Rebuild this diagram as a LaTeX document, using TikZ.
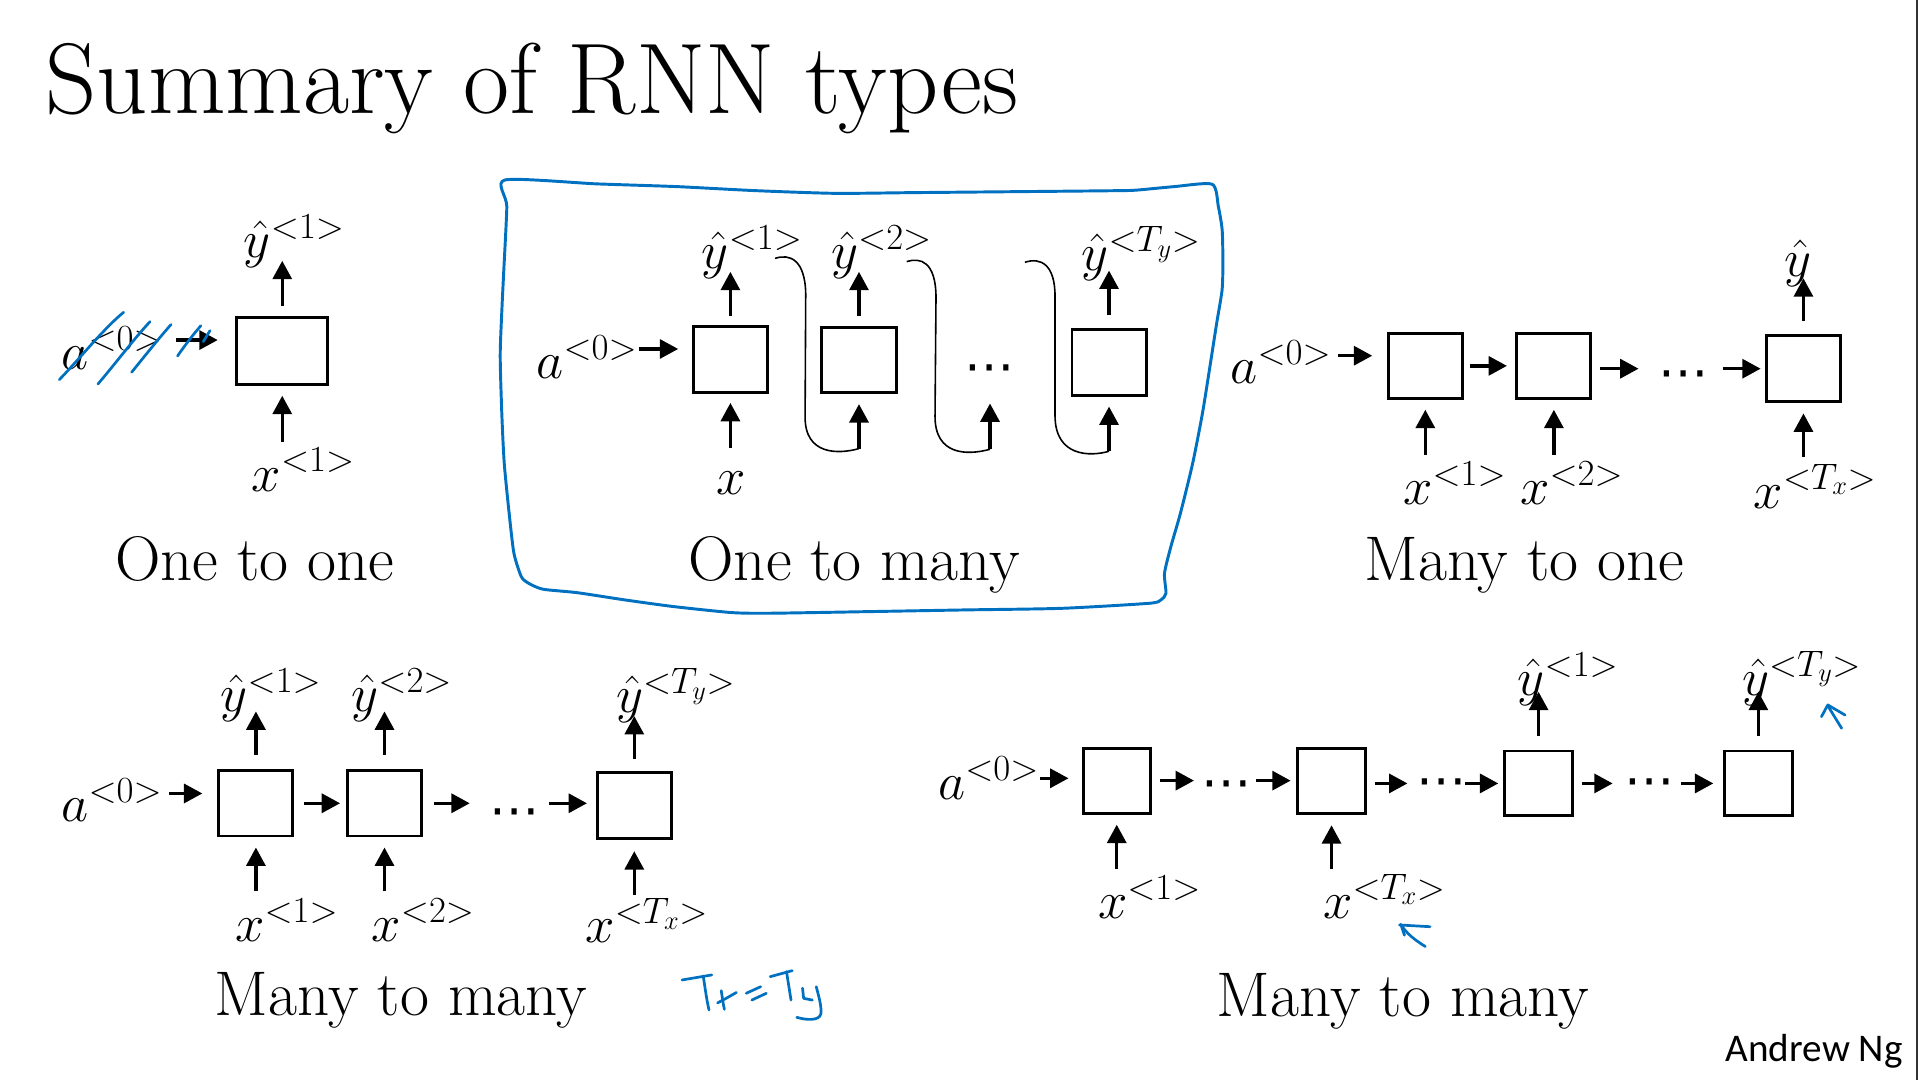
\RequirePackage{fix-cm}
\documentclass[tikz,border=0pt]{standalone}
\usepackage{fontspec}
\usetikzlibrary{arrows.meta}
\newfontfamily\carlito{Carlito}
\newfontfamily\dejavu{DejaVu Sans}
\definecolor{inkblue}{RGB}{0,112,192}
\newcommand\labfont{\fontsize{43}{46}\selectfont}
\newcommand\capfont{\fontsize{51.5}{54}\selectfont}
\newcommand\ttlfont{\fontsize{82}{86}\selectfont}
\newcommand\dotfont{\dejavu\fontsize{41}{41}\selectfont}
\tikzset{
  cell/.style={draw, line width=2.4pt, inner sep=0pt, minimum width=60.5pt, minimum height=53.5pt},
  arr/.style={line width=2.7pt, -{Triangle[length=15pt,width=15.5pt]}},
  loopline/.style={line width=1.3pt},
  lab/.style={inner sep=0pt, font=\labfont, anchor=base west},
  caption/.style={inner sep=0pt, font=\capfont, anchor=base},
  dotsn/.style={inner sep=0pt, font=\dotfont, anchor=center, text height=24.6pt, text depth=0pt},
  ink/.style={draw=inkblue, line width=2.2pt, line cap=round, line join=round},
}
\begin{document}
\begin{tikzpicture}[x=1pt,y=-1pt]
\useasboundingbox (0,0) rectangle (1568,882);
\fill[white] (0,0) rectangle (1568,882);
\draw[line width=1.5pt, black!80] (1565.5,0) -- (1565.5,882);

\node[inner sep=0pt, anchor=base west, font=\ttlfont] (title) at (37,93) {Summary of RNN types};

% ---------- One to one ----------
\node[cell, minimum width=74.6pt, minimum height=54.6pt] (b11) at (230.5,286.5) {};
\node[lab, text height=48.6pt, text depth=0pt] (a01) at (50,302) {$a^{<0>}$};
\node[lab] (y11) at (199,210) {$\hat{y}^{<1>}$};
\node[lab] (x11) at (205.5,401) {$x^{<1>}$};
\draw[arr, shorten <=11pt, shorten >=14.2pt] (a01.east) -- (a01.east -| b11.west);
\draw[arr, shorten <=8.2pt, shorten >=3pt] (b11.north) -- (b11.north |- y11.base);
\draw[arr, shorten <=40pt, shorten >=8.2pt] (b11.south |- x11.base) -- (b11.south);
\node[caption] (c1) at (208,474) {One to one};
\draw[ink] (48.5,310) .. controls (65,293) and (85,268) .. (101,255);
\draw[ink] (80,313.6) .. controls (95,296) and (110,276) .. (122.5,262.7);
\draw[ink] (107.5,304) .. controls (118,291) and (130,276) .. (139.7,265);
\draw[ink] (145,290.7) .. controls (151,282) and (158,273) .. (164,266);
\draw[ink] (166,279) -- (171.5,270);

% ---------- One to many ----------
\node[cell] (b21) at (596.5,293.5) {};
\node[cell] (b22) at (701.5,294) {};
\node[cell] (b23) at (905.7,296.2) {};
\node[lab, text height=48pt, text depth=0pt] (a02) at (438,309) {$a^{<0>}$};
\node[lab] (y21) at (573,219) {$\hat{y}^{<1>}$};
\node[lab] (y22) at (678.6,219) {$\hat{y}^{<2>}$};
\node[lab] (y23) at (883,221) {$\hat{y}^{<T_y>}$};
\node[lab] (x21) at (585,404) {$x$};
\node[dotsn] (d2) at (808.5,300.7) {⋯};
\draw[arr, shorten <=1pt, shorten >=11.2pt] (a02.east) -- (a02.east -| b21.west);
\draw[arr, shorten <=7.6pt, shorten >=3pt] (b21.north) -- (b21.north |- y21.base);
\draw[arr, shorten <=8.1pt, shorten >=3pt] (b22.north) -- (b22.north |- y22.base);
\draw[arr, shorten <=10.7pt, shorten >=0pt] (b23.north) -- (b23.north |- y23.base);
\draw[arr, shorten <=38pt, shorten >=7.6pt] (b21.south |- x21.base) -- (b21.south);
\coordinate (s1) at (633,211);
\coordinate (s2) at (740.5,213.6);
\coordinate (s3) at (837,214.2);
\coordinate (j1) at ([yshift=-44.4pt]b22.south);
\coordinate (j2) at ([yshift=-66.2pt]d2.center);
\coordinate (j3) at ([yshift=-44.4pt]b23.south);
\draw[loopline] (s1) .. controls (645,207) and (657.5,212) .. (658,240) -- (657.5,340) .. controls (657,372) and (685,371) .. (j1);
\draw[loopline] (s2) .. controls (752,210) and (764,214) .. (764.4,242) -- (763.6,340) .. controls (763.5,372) and (790,372) .. (j2);
\draw[loopline] (s3) .. controls (850,210) and (861.6,216) .. (861.6,242) -- (861.6,340) .. controls (862,373) and (890,373) .. (j3);
\draw[arr, shorten >=8.1pt] (j1) -- (b22.south);
\draw[arr, shorten >=28.8pt] (j2) -- (d2.center);
\draw[arr, shorten >=7.9pt] (j3) -- (b23.south);
\node[caption] (c2) at (697.5,474) {One to many};
\draw[ink, line width=2.4pt] plot[smooth cycle, tension=0.4] coordinates {
 (412.3,147) (488,150.2) (552.7,152.4) (617,155.7) (682,157.9) (746.5,157.3) (833,156.5)
 (913.9,155.7) (929,155.2) (959,152.4) (990,150.5) (995,168.8) (998.1,187.8) (998.7,215)
 (998,237) (993.6,264) (988,300) (982,337.5) (974,378.4) (964,419.2) (956.2,446.4)
 (951,468.2) (952.2,484.5) (948,490) (938.3,492.7) (867,496.8) (788,498.1) (708.7,499.5)
 (629.5,500.8) (598,500.3) (550.4,495.4) (510.8,490) (471.2,484) (443.5,481.2)
 (431.6,476.3) (425.7,470.9) (419.7,451.8) (415.8,419.2) (411.8,378.4) (409.8,337.5)
 (408.5,290) (410,250) (411.3,223.2) (413.9,168.7)};

% ---------- Many to one ----------
\node[cell] (b31) at (1164,298.8) {};
\node[cell] (b32) at (1269,298.8) {};
\node[cell] (b33) at (1472.8,301.1) {};
\node[lab, text height=45pt, text depth=0pt] (a03) at (1004.7,313) {$a^{<0>}$};
\node[lab] (y33) at (1457,226) {$\hat{y}$};
\node[lab] (x31) at (1145.8,412) {$x^{<1>}$};
\node[lab] (x32) at (1241.4,412) {$x^{<2>}$};
\node[lab] (x33) at (1432,415) {$x^{<T_x>}$};
\node[dotsn] (d3) at (1375.3,306) {⋯};
\draw[arr, shorten <=5.4pt, shorten >=11.9pt] (a03.east) -- (a03.east -| b31.west);
\draw[arr, shorten <=4.8pt, shorten >=6.9pt] (b31.east) -- (b32.west);
\draw[arr, shorten <=6.5pt, shorten >=103.2pt] (b33.west -| b32.east) -- (b33.west);
\draw[arr, shorten <=106.5pt, shorten >=3.5pt] (b33.west -| b32.east) -- (b33.west);
\draw[arr, shorten <=10.8pt, shorten >=1.3pt] (b33.north) -- (b33.north |- y33.base);
\draw[arr, shorten <=40.4pt, shorten >=7.9pt] (b31.south |- x31.base) -- (b31.south);
\draw[arr, shorten <=40.4pt, shorten >=7.9pt] (b32.south |- x32.base) -- (b32.south);
\draw[arr, shorten <=41.6pt, shorten >=8.6pt] (b33.south |- x33.base) -- (b33.south);
\node[caption] (c3) at (1245,474) {Many to one};

% ---------- Many to many (Tx = Ty) ----------
\node[cell] (b41) at (209,656) {};
\node[cell] (b42) at (314,656) {};
\node[cell] (b43) at (518,658) {};
\node[lab, text height=46pt, text depth=0pt] (a04) at (50,671) {$a^{<0>}$};
\node[lab] (y41) at (180,581) {$\hat{y}^{<1>}$};
\node[lab] (y42) at (286.8,581) {$\hat{y}^{<2>}$};
\node[lab] (y43) at (503,582) {$\hat{y}^{<T_y>}$};
\node[lab] (x41) at (192,769) {$x^{<1>}$};
\node[lab] (x42) at (303.3,769) {$x^{<2>}$};
\node[lab] (x43) at (478,770) {$x^{<T_x>}$};
\node[dotsn] (d4) at (420,663.7) {⋯};
\draw[arr, shorten <=5.6pt, shorten >=12.3pt] (a04.east) -- (a04.east -| b41.west);
\draw[arr, shorten <=8pt, shorten >=4.8pt] (b41.east) -- (b42.west);
\draw[arr, shorten <=8.7pt, shorten >=102.9pt] (b42.east) -- (b42.east -| b43.west);
\draw[arr, shorten <=103.2pt, shorten >=7.2pt] (b42.east) -- (b42.east -| b43.west);
\draw[arr, shorten <=11.8pt] (b41.north) -- (b41.north |- y41.base);
\draw[arr, shorten <=11.8pt] (b42.north) -- (b42.north |- y42.base);
\draw[arr, shorten <=10.2pt, shorten >=2.8pt] (b43.north) -- (b43.north |- y43.base);
\draw[arr, shorten <=41pt, shorten >=8.2pt] (b41.south |- x41.base) -- (b41.south);
\draw[arr, shorten <=41pt, shorten >=8.2pt] (b42.south |- x42.base) -- (b42.south);
\draw[arr, shorten <=39pt, shorten >=9.2pt] (b43.south |- x43.base) -- (b43.south);
\node[caption] (c4) at (327.4,829) {Many to many};
\draw[ink] (557,800.3) -- (581.3,796.2);
\draw[ink] (574.3,797) .. controls (576,808) and (577,816) .. (579,824.8);
\draw[ink] (589,809) .. controls (590,815) and (590.5,820) .. (591.6,824.3);
\draw[ink] (586,819) .. controls (592,816) and (597,813) .. (601.4,810.5);
\draw[ink] (609.4,811.2) -- (621.2,805.8);
\draw[ink] (614,816.7) -- (625.8,811.2);
\draw[ink] (629,797.6) -- (647,792.7);
\draw[ink] (642.3,793.5) -- (646,816.7);
\draw[ink] (655.4,807) -- (656.3,815.3) -- (663.4,816.7);
\draw[ink] (666.6,805.8) .. controls (669,815) and (671,822) .. (670.4,828) .. controls (669,834) and (658,833) .. (650.7,830.8);

% ---------- Many to many (encoder-decoder) ----------
\node[cell, minimum width=55pt, minimum height=53pt] (b51) at (912,637.5) {};
\node[cell, minimum width=55pt, minimum height=53pt] (b52) at (1087.4,637.7) {};
\node[cell, minimum width=55pt, minimum height=53pt] (b53) at (1256.5,639.8) {};
\node[cell, minimum width=55pt, minimum height=53pt] (b54) at (1436,639.8) {};
\node[lab, text height=34.4pt, text depth=0pt] (a05) at (766,652.8) {$a^{<0>}$};
\node[lab] (x51) at (896.5,750) {$x^{<1>}$};
\node[lab] (x52) at (1080.4,750) {$x^{<T_x>}$};
\node[lab] (y53) at (1239.2,568) {$\hat{y}^{<1>}$};
\node[lab] (y54) at (1422.5,568) {$\hat{y}^{<T_y>}$};
\node[dotsn] (d51) at (1001.9,641) {⋯};
\node[dotsn] (d52) at (1177,639) {⋯};
\node[dotsn] (d53) at (1347,639) {⋯};
\draw[arr, shorten <=1pt, shorten >=10.7pt] (a05.east) -- (a05.east -| b51.west);
\draw[arr, shorten <=6.8pt, shorten >=83.6pt] (b51.east) -- (b51.east -| b52.west);
\draw[arr, shorten <=85.3pt, shorten >=4.7pt] (b51.east) -- (b51.east -| b52.west);
\draw[arr, shorten <=6.6pt, shorten >=78.4pt] (b53.west -| b52.east) -- (b53.west);
\draw[arr, shorten <=80.7pt, shorten >=4.2pt] (b53.west -| b52.east) -- (b53.west);
\draw[arr, shorten <=6.4pt, shorten >=90.3pt] (b53.east) -- (b54.west);
\draw[arr, shorten <=87.8pt, shorten >=8.1pt] (b53.east) -- (b54.west);
\draw[arr, shorten <=11.1pt, shorten >=-3pt] (b53.north) -- (b53.north |- y53.base);
\draw[arr, shorten <=11.1pt, shorten >=-3pt] (b54.north) -- (b54.north |- y54.base);
\draw[arr, shorten <=40pt, shorten >=8.3pt] (b51.south |- x51.base) -- (b51.south);
\draw[arr, shorten <=40pt, shorten >=8.6pt] (b52.south |- x52.base) -- (b52.south);
\node[caption] (c5) at (1145.7,830) {Many to many};
\draw[ink] (1142.9,755.4) -- (1167.8,756.8);
\draw[ink] (1144.5,755.4) .. controls (1148,762) and (1156,768) .. (1164,773);
\draw[ink] (1144,754.8) -- (1147,763.8);
\draw[ink] (1487.5,585.3) -- (1492.7,575.7) -- (1506.7,583.9);
\draw[ink] (1493.5,577.7) -- (1504,594.8);

\node[inner sep=0pt, anchor=base east, font=\carlito\fontsize{32}{34}\selectfont] (an) at (1554,867) {Andrew Ng};
\end{tikzpicture}
\end{document}
